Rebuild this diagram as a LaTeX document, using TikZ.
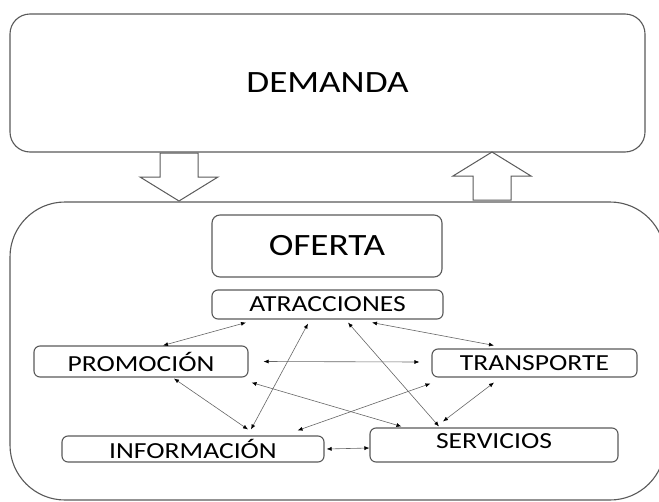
\documentclass[tikz,border=0pt]{standalone}
\usepackage{fontspec}
\setmainfont{Carlito}[FakeStretch=1.2]
\usetikzlibrary{arrows.meta}

\newcommand{\hollowarrow}[3]% tip x, tip y, direction (1 down, -1 up)
{(#1,#2) -- ++(-39,-24*#3) -- ++(20,0) -- ++(0,-24*#3) -- ++(38,0) -- ++(0,24*#3) -- ++(20,0) -- cycle
}

\begin{document}
\begin{tikzpicture}[x=1pt,y=-1pt]

\definecolor{borde}{rgb}{0.35,0.35,0.35}
\definecolor{flecha}{rgb}{0.4,0.4,0.4}

\tikzset{
  caja/.style={draw=borde, line width=1.1pt, rounded corners=6pt, inner sep=0pt,
    font=\fontsize{23}{25}\selectfont},
  grande/.style={caja, rounded corners=8pt, font=\fontsize{31}{33}\selectfont},
  enlace/.style={draw=flecha, line width=0.6pt,
    {Latex[length=5pt,width=4pt,black]}-{Latex[length=5pt,width=4pt,black]}}
}

\useasboundingbox (0,0) rectangle (659,501);
\clip (0,0) rectangle (659,501);

% demanda y oferta
\node[grande, rounded corners=20pt, minimum width=635pt, minimum height=138pt] (dem) at (327.5,83) {DEMANDA};
\draw[borde, line width=1.1pt, rounded corners=55pt] (10,202) rectangle (665,500);

\draw[borde, line width=1pt] \hollowarrow{179}{201}{1};
\draw[borde, line width=1pt] \hollowarrow{492}{152}{-1};

\node[grande, minimum width=230pt, minimum height=62pt] (ofe) at (327,246) {OFERTA};

% componentes
\node[caja, minimum width=231pt, minimum height=29pt] (atr) at (327.5,304.5) {ATRACCIONES};
\node[caja, minimum width=214pt, minimum height=31pt] (pro) at (141,361.5) {PROMOCIÓN};
\node[caja, minimum width=205pt, minimum height=28pt] (tra) at (534.5,363) {TRANSPORTE};
\node[caja, minimum width=262pt, minimum height=26pt] (inf) at (193,449) {INFORMACIÓN};
\node[caja, minimum width=248pt, minimum height=34pt, text depth=8pt] (ser) at (494,445) {SERVICIOS};

% relaciones
\draw[enlace] ([shift={(-81.5,3)}]atr.south) -- ([shift={(22,0)}]pro.north);
\draw[enlace] ([shift={(-19.5,4)}]atr.south) -- ([shift={(58,-6)}]inf.north);
\draw[enlace] ([shift={(20.5,3)}]atr.south) -- ([shift={(-55,-1)}]ser.north);
\draw[enlace] ([shift={(44.5,3)}]atr.south) -- ([shift={(-40.5,-3)}]tra.north);
\draw[enlace] ([shift={(15,0)}]pro.east) -- ([shift={(-12,-1)}]tra.west);
\draw[enlace] ([shift={(33,1)}]pro.south) -- ([shift={(55,-6)}]inf.north);
\draw[enlace] ([shift={(3,5)}]pro.south east) -- ([shift={(32,-1)}]ser.north west);
\draw[enlace] ([shift={(-1,6)}]tra.south west) -- ([shift={(-27,-5)}]inf.north east);
\draw[enlace] ([shift={(-40.5,5)}]tra.south) -- ([shift={(-51,-6)}]ser.north);
\draw[enlace] ([shift={(2,0)}]inf.east) -- ([shift={(0,3)}]ser.west);

\end{tikzpicture}
\end{document}
